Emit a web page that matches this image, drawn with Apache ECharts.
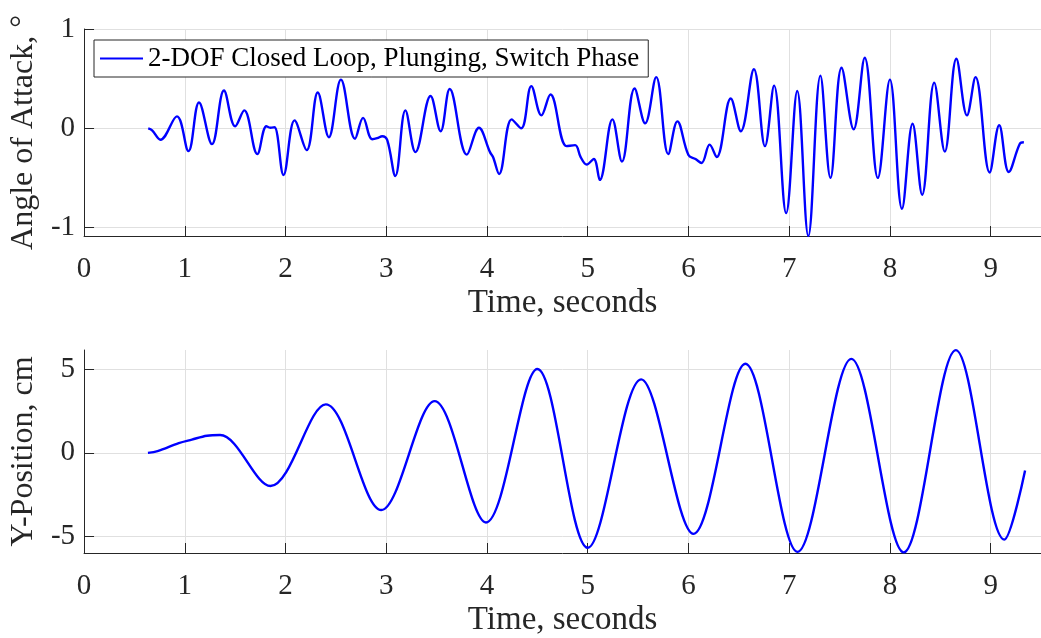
<!DOCTYPE html>
<html><head><meta charset="utf-8">
<script src="https://cdn.jsdelivr.net/npm/echarts@6/dist/echarts.min.js"></script>
<style>html,body{margin:0;padding:0;background:#fff;}#c{width:1041px;height:638px;}</style>
</head><body><div id="c"></div>
<script>
// ---- data ----
const seriesName = '2-DOF Closed Loop, Plunging, Switch Phase';
const timeAoA = [0.637,0.676,0.758,0.922,1.036,1.141,1.27,1.389,1.50,1.59,1.72,1.81,1.85,1.89,1.98,2.09,2.21,2.32,2.43,2.55,2.69,2.77,2.86,2.91,2.96,3.01,3.09,3.19,3.29,3.44,3.54,3.63,3.80,3.92,4.03,4.06,4.12,4.245,4.34,4.44,4.54,4.63,4.79,4.875,4.93,4.99,5.06,5.12,5.245,5.34,5.465,5.57,5.68,5.80,5.89,6.0,6.07,6.13,6.21,6.28,6.42,6.52,6.65,6.76,6.85,6.97,7.08,7.19,7.31,7.41,7.52,7.64,7.75,7.88,8.0,8.12,8.225,8.32,8.44,8.545,8.66,8.765,8.85,8.99,9.085,9.18,9.29,9.33];
const aoaDeg = [0,-0.02,-0.115,0.12,-0.23,0.26,-0.16,0.38,0.02,0.18,-0.26,0.02,0.005,0.01,-0.47,0.08,-0.22,0.36,-0.09,0.49,-0.105,0.105,-0.11,-0.10,-0.08,-0.12,-0.48,0.18,-0.24,0.325,-0.03,0.395,-0.265,0.005,-0.24,-0.29,-0.46,0.09,0.0,0.425,0.13,0.34,-0.18,-0.17,-0.29,-0.365,-0.31,-0.52,0.09,-0.335,0.40,0.05,0.515,-0.26,0.07,-0.27,-0.31,-0.35,-0.165,-0.29,0.30,-0.03,0.595,-0.18,0.43,-0.855,0.375,-1.085,0.53,-0.50,0.61,-0.01,0.71,-0.50,0.49,-0.81,0.045,-0.67,0.46,-0.235,0.70,0.13,0.515,-0.445,0.03,-0.44,-0.155,-0.14];
const timeY = [0.634,0.73,0.94,1.07,1.22,1.35,1.85,2.40,2.95,3.48,3.99,4.50,5.00,5.53,6.05,6.565,7.083,7.617,8.137,8.655,9.136,9.342];
const yPosCm = [0,0.1,0.58,0.79,1.02,1.06,-1.98,2.89,-3.41,3.08,-4.15,5.0,-5.66,4.38,-4.83,5.31,-5.9,5.6,-5.93,6.12,-5.17,-1.05];
const xTicks = [0,1,2,3,4,5,6,7,8,9];
const aoaTicks = [-1,0,1];
const yTicks = [-5,0,5];

const FONT = '"Liberation Serif", "Times New Roman", serif';
const AX = '#262626';
const GRIDC = '#e0e0e0';

function xAxisCfg(idx) {
  return {
    type: 'value', gridIndex: idx, min: 0, max: 9.5,
    axisLine: {show: true, onZero: false, lineStyle: {color: AX, width: 1}},
    axisTick: {show: true, inside: true, length: 10, customValues: xTicks, lineStyle: {color: AX}},
    axisLabel: {customValues: xTicks, fontFamily: FONT, fontSize: 29, color: AX, margin: 19},
    splitLine: {show: true, lineStyle: {color: GRIDC, width: 1}},
    name: 'Time, seconds', nameLocation: 'middle', nameGap: 51,
    nameTextStyle: {fontFamily: FONT, fontSize: 33, color: AX}
  };
}
function yAxisCfg(idx, mn, mx, ticks, name) {
  return {
    type: 'value', gridIndex: idx, min: mn, max: mx,
    axisLine: {show: true, onZero: false, lineStyle: {color: AX, width: 1}},
    axisTick: {show: true, inside: true, length: 10, customValues: ticks, lineStyle: {color: AX}},
    axisLabel: {customValues: ticks, fontFamily: FONT, fontSize: 29, color: AX, margin: 9},
    splitLine: {show: true, lineStyle: {color: GRIDC, width: 1}},
    name: name, nameLocation: 'middle', nameGap: 31, nameRotate: 90,
    nameTextStyle: {fontFamily: FONT, fontSize: 32, color: AX}
  };
}

const chart = echarts.init(document.getElementById('c'), null, {renderer: 'canvas'});
chart.setOption({
  animation: false,
  backgroundColor: '#fff',
  grid: [
    {left: 82, top: 29, width: 967, height: 207},
    {left: 82, top: 350, width: 967, height: 207}
  ],
  xAxis: [xAxisCfg(0), xAxisCfg(1)],
  yAxis: [
    yAxisCfg(0, -1.085, 1, aoaTicks, 'Angle of Attack, °'),
    yAxisCfg(1, -5.97, 6.13, yTicks, 'Y-Position, cm')
  ],
  legend: {
    data: [seriesName], left: 94, top: 40,
    padding: [5, 9, 5, 6], borderColor: AX, borderWidth: 1, backgroundColor: '#fff',
    icon: 'rect', itemWidth: 43, itemHeight: 2,
    textStyle: {fontFamily: FONT, fontSize: 27, color: '#000'}
  },
  series: [
    {name: seriesName, type: 'line', xAxisIndex: 0, yAxisIndex: 0, showSymbol: false, smooth: 0.38,
     data: timeAoA.map((t, i) => [t, aoaDeg[i]]), lineStyle: {color: '#0000ff', width: 2.4}, itemStyle: {color: '#0000ff'}},
    {name: 'Y-Position', type: 'line', xAxisIndex: 1, yAxisIndex: 1, showSymbol: false, smooth: 0.34,
     data: timeY.map((t, i) => [t, yPosCm[i]]), lineStyle: {color: '#0000ff', width: 2.4}, itemStyle: {color: '#0000ff'}}
  ]
});
</script>
</body></html>
